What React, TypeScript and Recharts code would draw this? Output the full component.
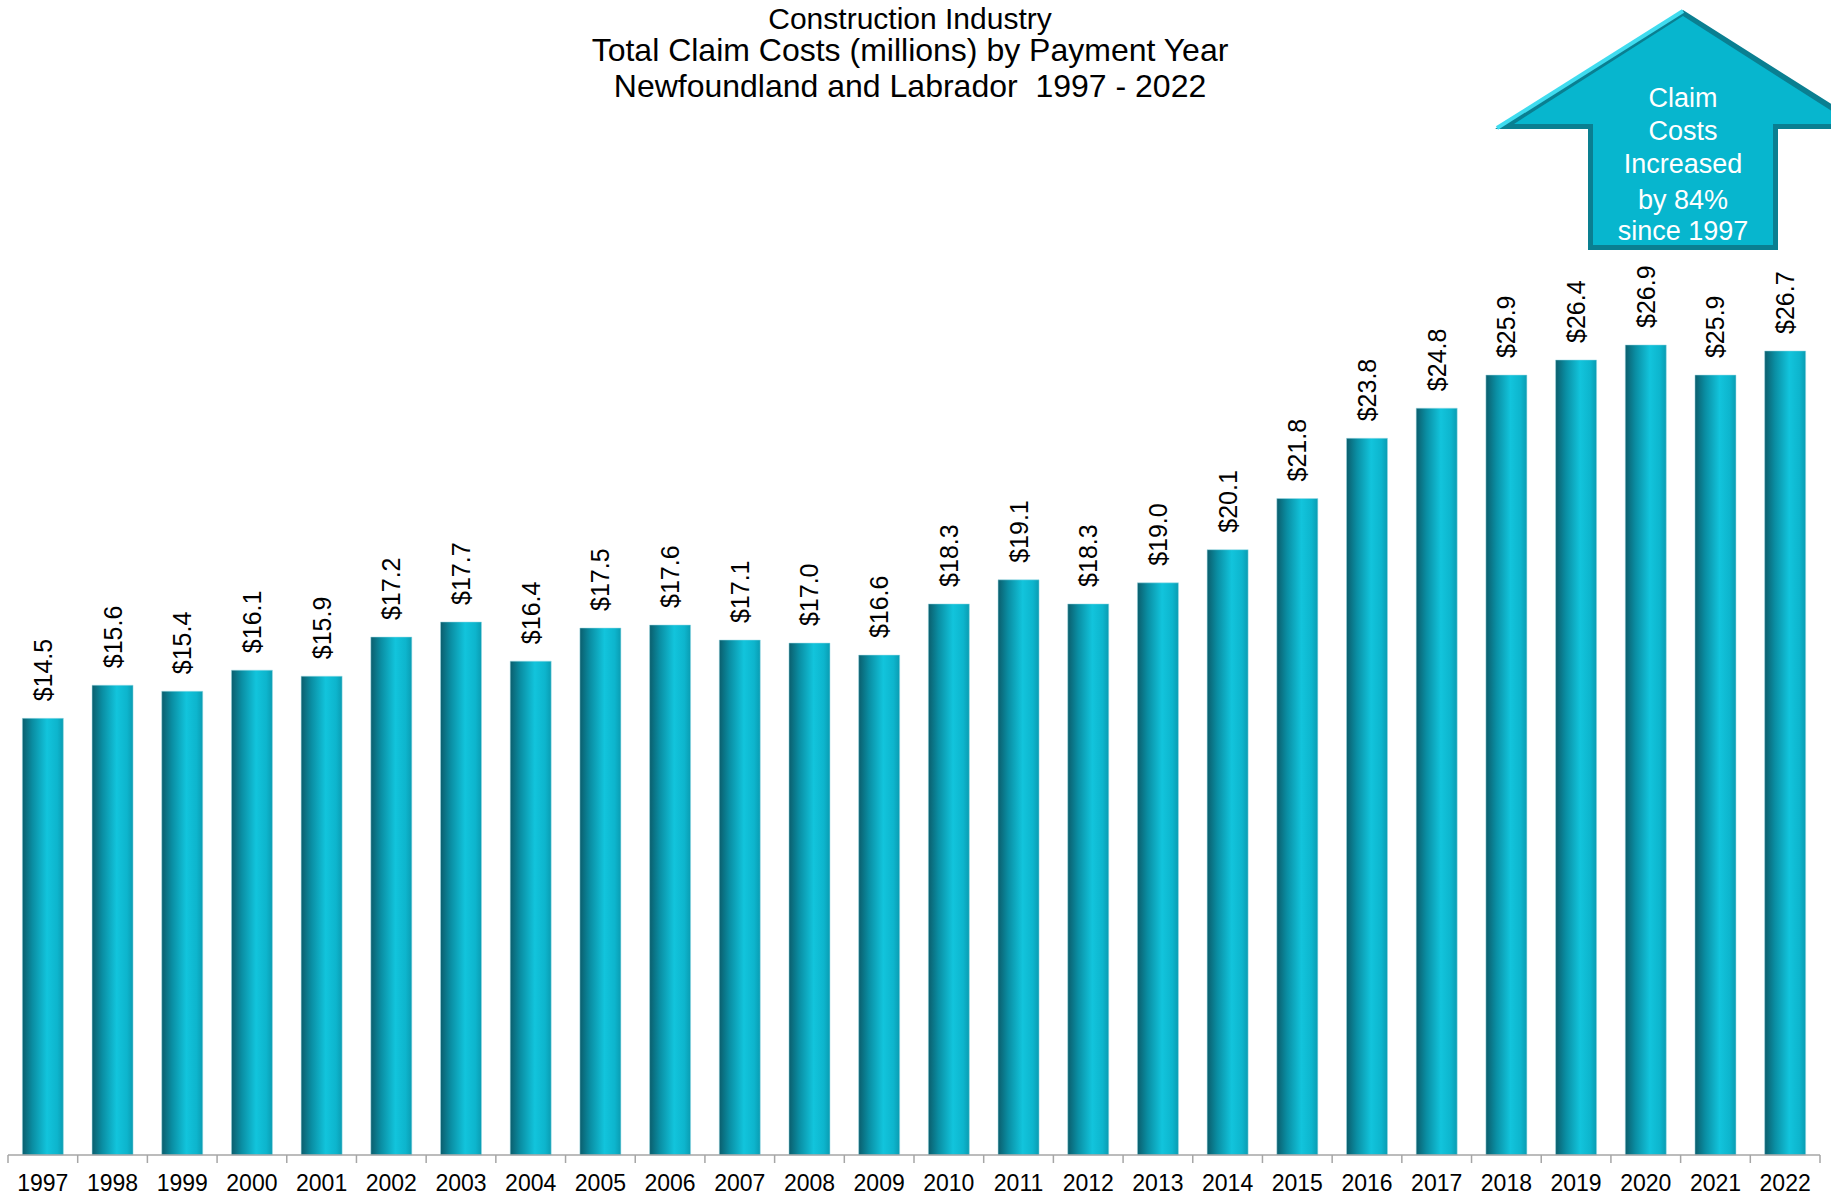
import { BarChart, Bar, XAxis, YAxis, LabelList } from 'recharts';

const years = ['1997', '1998', '1999', '2000', '2001', '2002', '2003', '2004', '2005', '2006', '2007', '2008', '2009', '2010', '2011', '2012', '2013', '2014', '2015', '2016', '2017', '2018', '2019', '2020', '2021', '2022'];
const claimCosts = [14.5, 15.6, 15.4, 16.1, 15.9, 17.2, 17.7, 16.4, 17.5, 17.6, 17.1, 17.0, 16.6, 18.3, 19.1, 18.3, 19.0, 20.1, 21.8, 23.8, 24.8, 25.9, 26.4, 26.9, 25.9, 26.7];
const titleLines = ['Construction Industry', 'Total Claim Costs (millions) by Payment Year', 'Newfoundland and Labrador  1997 - 2022'];
const arrowLines = ['Claim', 'Costs', 'Increased', 'by 84%', 'since 1997'];

const data = years.map((year, i) => ({ year, cost: claimCosts[i] }));

const W = 1831;
const H = 1199;
const M = { top: 101, right: 11, left: 8, bottom: 0 };
const X_AXIS_H = 44;
const AXIS_Y = H - M.bottom - X_AXIS_H;
const STEP = (W - M.left - M.right) / years.length;
const FONT = '"Liberation Sans", Arial, sans-serif';

function YearTick({ x, payload, index }: any) {
  const left = x - STEP / 2;
  return (
    <g>
      <line x1={left} x2={left} y1={AXIS_Y} y2={AXIS_Y + 8} stroke="#a6a6a6" strokeWidth={1.5} />
      {index === years.length - 1 && (
        <line x1={x + STEP / 2} x2={x + STEP / 2} y1={AXIS_Y} y2={AXIS_Y + 8} stroke="#a6a6a6" strokeWidth={1.5} />
      )}
      <text x={x} y={AXIS_Y + 36} textAnchor="middle" fontFamily={FONT} fontSize={23} fill="#000">
        {payload.value}
      </text>
    </g>
  );
}

function ValueLabel({ x, y, width, value }: any) {
  const cx = x + width / 2;
  const cy = y - 17;
  return (
    <text
      x={cx}
      y={cy}
      transform={`rotate(-90 ${cx} ${cy})`}
      textAnchor="start"
      dominantBaseline="central"
      fontFamily={FONT}
      fontSize={25}
      fill="#000"
    >
      {`$${Number(value).toFixed(1)}`}
    </text>
  );
}

function Overlay() {
  const outer = '1683,10 1871,129 1778,129 1778,250 1588,250 1588,129 1495,129';
  const inner = '1683,16 1852,124 1773,124 1773,245 1593,245 1593,124 1514,124';
  return (
    <svg width={W} height={H} style={{ position: 'absolute', left: 0, top: 0, pointerEvents: 'none' }}>
      {titleLines.map((t, i) => (
        <text
          key={t}
          x={910}
          y={[29, 61, 97][i]}
          textAnchor="middle"
          fontFamily={FONT}
          fontSize={i === 0 ? 30 : 32}
          fill="#000"
          style={{ whiteSpace: 'pre' }}
        >
          {t}
        </text>
      ))}
      <polygon points={outer} fill="#0a7f91" />
      <polygon points={inner} fill="#07b6ce" />
      <polyline points="1497,128 1683,11" fill="none" stroke="#3fdcef" strokeWidth={4} />
      {arrowLines.map((t, i) => (
        <text key={t} x={1683} y={[107, 140, 173, 209, 240][i]} textAnchor="middle" fontFamily={FONT} fontSize={27} fill="#fff">
          {t}
        </text>
      ))}
    </svg>
  );
}

export default function App() {
  return (
    <div style={{ position: 'absolute', left: 0, top: 0, width: W, height: H, background: '#fff', overflow: 'hidden' }}>
      <BarChart width={W} height={H} data={data} margin={M} barCategoryGap="20.6%">
        <defs>
          <linearGradient id="barGrad" x1="0" y1="0" x2="1" y2="0">
            <stop offset="0%" stopColor="#0b5e6d" />
            <stop offset="25%" stopColor="#0a8ea3" />
            <stop offset="60%" stopColor="#12c4dc" />
            <stop offset="85%" stopColor="#0db5cd" />
            <stop offset="100%" stopColor="#0a9cb2" />
          </linearGradient>
        </defs>
        <XAxis
          dataKey="year"
          height={X_AXIS_H}
          interval={0}
          tickLine={false}
          axisLine={{ stroke: '#a6a6a6', strokeWidth: 1.5 }}
          tick={<YearTick />}
        />
        <YAxis hide domain={[0, 35]} />
        <Bar dataKey="cost" fill="url(#barGrad)" stroke="#9fdce6" strokeWidth={0.5} isAnimationActive={false}>
          <LabelList dataKey="cost" content={<ValueLabel />} />
        </Bar>
      </BarChart>
      <Overlay />
    </div>
  );
}
